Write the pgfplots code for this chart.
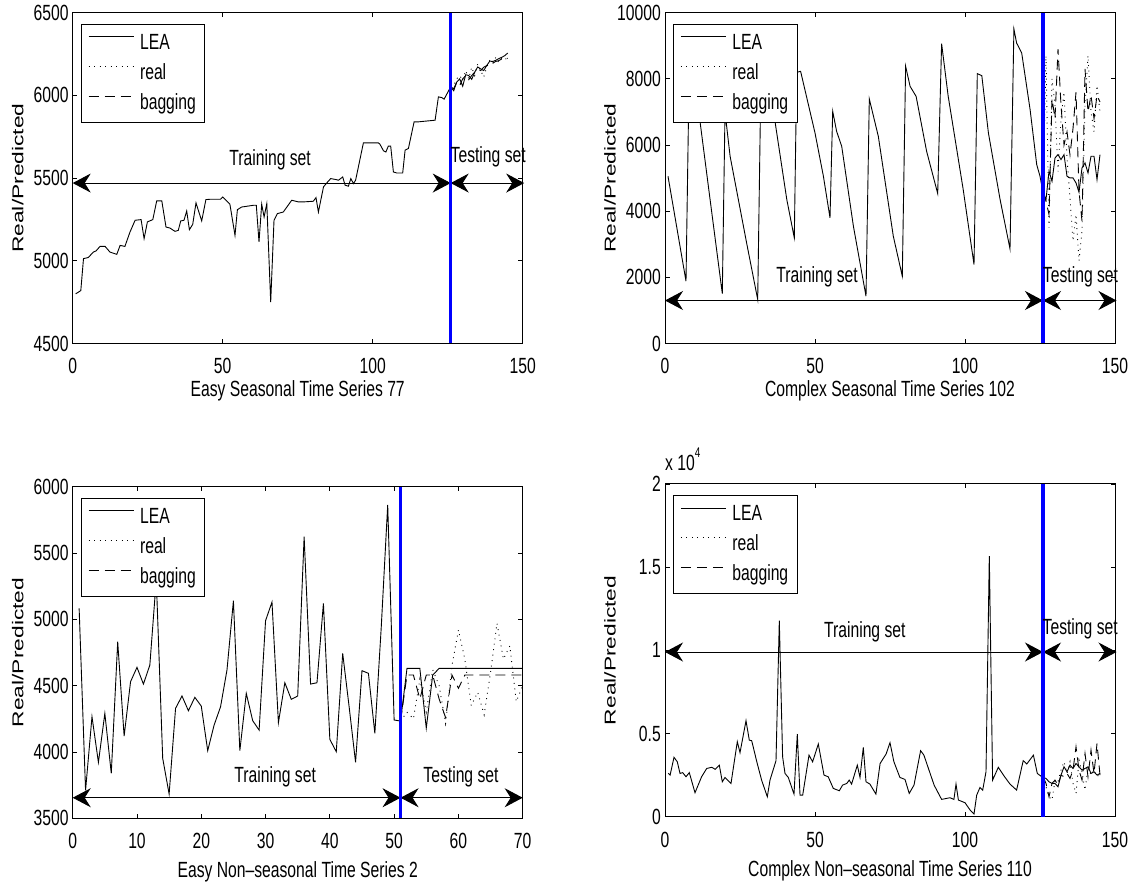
\documentclass[border=0pt]{standalone}
\usepackage{pgfplots}
\pgfplotsset{compat=1.18}
\usepackage{fontspec}
\setmainfont{Liberation Sans}
\usetikzlibrary{arrows.meta}
\newcommand\lab{\fontsize{15.7bp}{18bp}\selectfont}

\tikzset{
  dbl/.style={black, line width=0.9bp,
    {Stealth[length=18bp,width=19bp,inset=6bp]}-{Stealth[length=18bp,width=19bp,inset=6bp]}},
  vsep/.style={blue, line width=3.5bp},
  tag/.style={font=\lab, yscale=1.4, anchor=base, inner sep=0pt},
}
\pgfplotsset{
  panel/.style={
    scale only axis, width=450bp, anchor=south west, clip=false,
    axis line style={line width=1bp},
    every tick/.style={black, line width=0.8bp},
    major tick length=4.5bp,
    tick align=inside,
    tick label style={font=\lab, yscale=1.4, inner sep=2bp},
    xticklabel shift=12bp,
    yticklabel shift=2bp,
    /pgf/number format/assume math mode=true,
    /pgf/number format/1000 sep={},
    scaled ticks=false,
    xlabel style={font=\lab, yscale=1.4, at={(axis description cs:0.5,-0.097)}, anchor=north},
    ylabel style={font=\lab, at={(axis description cs:-0.1222,0.5)}, anchor=center, xscale=1.45},
    ylabel={Real/Predicted},
    legend style={at={(axis description cs:0,1)}, anchor=north west,
      xshift=8bp, yshift=-11.5bp, draw=black, line width=0.9bp, fill=white,
      font=\lab, inner xsep=7bp, inner ysep=6bp, row sep=3.5bp, column sep=4bp,
      nodes={yscale=1.4, inner sep=2bp, text height=11.5bp, text depth=3.3bp},
      cells={anchor=west}},
    legend image code/.code={\draw[#1] (0bp,7bp) -- (45bp,7bp);},
  },
  lowlabel/.style={xlabel style={at={(axis description cs:0.5,-0.116)}}},
  lea/.style={black, line width=0.9bp},
  realser/.style={black, line width=0.9bp, dash pattern=on 0.9bp off 4.6bp},
  bag/.style={black, line width=0.9bp, dash pattern=on 10bp off 6bp},
}

\begin{document}
\begin{tikzpicture}
\useasboundingbox (0,0) rectangle (1136bp,883bp);

% ---------------- Easy seasonal series 77 ----------------
\begin{axis}[panel, at={(72.7bp,539.5bp)}, height=330.8bp,
  xmin=0, xmax=150, ymin=4500, ymax=6500,
  xtick={0,50,100,150}, ytick={4500,5000,5500,6000,6500},
  xlabel={Easy Seasonal Time Series 77}]
\addplot[lea] coordinates {
(1,4800) (2.7,4820) (3.6,5013) (5.2,5020) (6.9,5053) (7.8,5060) (9.1,5087) (10.8,5087)
(12.4,5053) (14.7,5039) (15.8,5093) (17.4,5087) (19.1,5174) (20.8,5245) (22.8,5249)
(23.8,5134) (24.9,5235) (26.7,5249) (28,5362) (29.7,5362) (31.1,5204) (32.4,5198)
(34.1,5178) (35.2,5184) (36,5241) (37.1,5245) (38,5301) (38.9,5188) (40,5220) (41.1,5350)
(43,5241) (44.4,5370) (45.8,5372) (49.3,5372) (50,5386) (52.4,5342) (54.1,5154)
(54.9,5309) (56.3,5325) (60.4,5336) (61.2,5336) (62.1,5114) (63,5342) (63.8,5265)
(64.7,5346) (66,4750) (67.1,5245) (68.2,5285) (70.2,5295) (73,5366) (75.2,5356)
(76.9,5356) (80.2,5360) (81.1,5382) (81.9,5295) (83.6,5447) (84.7,5471) (86,5497)
(87.8,5491) (88.6,5487) (90,5507) (90.8,5457) (91.9,5451) (92.7,5497) (93.6,5467)
(94.3,5487) (96.9,5713) (101.9,5713) (102.4,5705) (103.6,5665) (104.4,5658) (105.2,5693)
(106,5693) (106.9,5537) (108,5531) (110,5531) (110.8,5669) (111.9,5679) (113.8,5840)
(115.2,5840) (120.8,5850) (121.9,5991) (123,5987) (123.8,5977) (126,6052)
(127,6028) (128,6080) (129,6100) (130,6055) (131,6125) (132,6120) (133,6097) (134,6140)
(135,6172) (136,6160) (137,6150) (138,6180) (139,6207) (140,6205) (141,6212) (142,6222)
(143,6230) (144,6240) (145,6256)};
\addplot[realser] coordinates {
(126,6052) (127,6060) (128,6100) (129,6120) (130,6090) (131,6150) (132,6100) (133,6170)
(134,6120) (135,6190) (136,6150) (137,6110) (138,6170) (139,6210) (140,6190) (141,6230)
(142,6200) (143,6225) (144,6215) (145,6230)};
\addplot[bag] coordinates {
(126,6052) (127,6040) (128,6080) (129,6060) (130,6100) (131,6120) (132,6095) (133,6120)
(134,6140) (135,6160) (136,6150) (137,6170) (138,6180) (139,6190) (140,6195) (141,6205)
(142,6210) (143,6220) (144,6215) (145,6225)};
\legend{LEA,real,bagging}
\addplot[dbl, forget plot] coordinates {(0,5470) (126,5470)};
\addplot[dbl, forget plot] coordinates {(126,5470) (150.5,5470)};
\addplot[vsep, forget plot] coordinates {(126,4500) (126,6500)};
\node[tag] at (axis cs:65.8,5577) {Training set};
\node[tag] at (axis cs:138.5,5595) {Testing set};
\end{axis}

% ---------------- Complex seasonal series 102 ----------------
\begin{axis}[panel, at={(665bp,539.5bp)}, height=330.8bp,
  xmin=0, xmax=150, ymin=0, ymax=10000,
  xtick={0,50,100,150}, ytick={0,2000,4000,6000,8000,10000},
  xlabel={Complex Seasonal Time Series 102}]
\addplot[lea] coordinates {
(1,5055) (7,1883) (8,7900) (11.7,6690) (15,4370) (19.1,1511) (20,7000) (21.7,5660)
(27.2,3041) (30.9,1330) (32,8200) (34,7600) (36.7,6690) (40.6,4350) (43.1,3192)
(43.9,8197) (45.2,8228) (50,6365) (52.8,5055) (55,3797) (55.9,7019) (57.2,6415)
(58.9,5962) (62.8,3545) (67,1430) (68.1,7392) (71.1,6264) (76.1,3243) (79.1,2034)
(80.2,8379) (81.7,7774) (83.7,7472) (87.2,5811) (90.9,4532) (92.2,9063) (94.4,7472)
(99.4,4653) (103,2387) (104.1,8157) (105.6,8097) (107.8,6365) (111.7,4350) (115,2860)
(116.3,9507) (117.2,9084) (118.9,8781) (121.7,7069) (123.9,5408) (125,5055) (126,4572)
(127,4350) (128,5206) (129,4904) (130,5609) (131,5710) (132,5559) (133,5710) (134,5055)
(135,5005) (136,5005) (137,4854) (138,4572) (139,5307) (140,5458) (141,5156) (142,5660)
(143,5660) (144,4955) (145,5710)};
\addplot[realser] coordinates {
(126,4572) (127,8700) (128,3500) (129,8000) (130,7200) (131,5200) (132,6800) (133,7600)
(134,5600) (135,4400) (136,3100) (137,3900) (138,2500) (139,3400) (140,7200) (141,8700)
(142,7000) (143,6400) (144,7800) (145,7000)};
\addplot[bag] coordinates {
(126,4572) (127,4300) (128,3900) (129,7400) (130,6800) (131,8900) (132,7200) (133,6000)
(134,6400) (135,5700) (136,6500) (137,7600) (138,4600) (139,3700) (140,8300) (141,7000)
(142,7500) (143,6800) (144,7500) (145,7300)};
\legend{LEA,real,bagging}
\addplot[dbl, forget plot] coordinates {(0,1300) (126,1300)};
\addplot[dbl, forget plot] coordinates {(126,1300) (150.5,1300)};
\addplot[vsep, forget plot] coordinates {(126,0) (126,10000)};
\node[tag] at (axis cs:50.7,1834) {Training set};
\node[tag] at (axis cs:138.5,1830) {Testing set};
\end{axis}

% ---------------- Easy non-seasonal series 2 ----------------
\begin{axis}[panel, lowlabel, at={(72.7bp,64.7bp)}, height=331.6bp,
  xmin=0, xmax=70, ymin=3500, ymax=6000,
  xtick={0,10,20,30,40,50,60,70}, ytick={3500,4000,4500,5000,5500,6000},
  xlabel={Easy Non\textendash seasonal Time Series 2}]
\addplot[lea] coordinates {
(1,5083) (2,3710) (3,4266) (4,3922) (5,4291) (6,3839) (7,4831) (8,4120) (9,4530)
(10,4638) (11,4512) (12,4655) (13,5300) (14,3952) (15,3683) (16,4329) (17,4422)
(18,4311) (19,4412) (20,4346) (21,4010) (22,4203) (23,4341) (24,4618) (25,5140)
(26,4010) (27,4442) (28,4236) (29,4165) (30,4990) (31,5130) (32,4221) (33,4522)
(34,4397) (35,4422) (36,5623) (37,4512) (38,4522) (39,5120) (40,4095) (41,4002)
(42,4743) (43,4341) (44,3922) (45,4613) (46,4593) (47,4140) (48,4944) (49,5862)
(50,4241) (51,4233) (52,4630) (53,4630) (54,4630) (55,4180) (56,4580) (57,4630)
(58,4630) (59,4630) (60,4630) (61,4630) (62,4630) (63,4630) (64,4630) (65,4630)
(66,4630) (67,4630) (68,4630) (69,4630) (70,4630)};
\addplot[realser] coordinates {
(51,4233) (52,4300) (53,4250) (54,4550) (55,4300) (56,4620) (57,4500) (58,4215)
(59,4650) (60,4920) (61,4700) (62,4350) (63,4450) (64,4280) (65,4600) (66,4970)
(67,4700) (68,4800) (69,4380) (70,4500)};
\addplot[bag] coordinates {
(51,4233) (52,4580) (53,4580) (54,4400) (55,4580) (56,4580) (57,4400) (58,4260)
(59,4580) (60,4480) (61,4580) (62,4580) (63,4580) (64,4580) (65,4580) (66,4580)
(67,4580) (68,4580) (69,4580) (70,4580)};
\legend{LEA,real,bagging}
\addplot[dbl, forget plot] coordinates {(0,3655) (51,3655)};
\addplot[dbl, forget plot] coordinates {(51,3655) (70,3655)};
\addplot[vsep, forget plot] coordinates {(51,3500) (51,6000)};
\node[tag] at (axis cs:31.5,3771) {Training set};
\node[tag] at (axis cs:60.4,3771) {Testing set};
\end{axis}

% ---------------- Complex non-seasonal series 110 ----------------
\begin{axis}[panel, lowlabel, at={(665bp,66.3bp)}, height=332.7bp,
  xmin=0, xmax=150, ymin=0, ymax=2,
  xtick={0,50,100,150}, ytick={0,0.5,1,1.5,2},
  xlabel={Complex Non\textendash seasonal Time Series 110}]
\addplot[lea] coordinates {
(1.1,0.261) (1.7,0.25) (3,0.357) (4.1,0.33) (5,0.26) (5.9,0.265) (7,0.24) (8.1,0.265)
(10,0.144) (12.2,0.24) (13.9,0.29) (15.6,0.297) (16.7,0.285) (18.1,0.31) (19.1,0.21)
(20,0.236) (22,0.2) (24.1,0.451) (25,0.385) (27,0.577) (28.1,0.46) (28.9,0.457)
(30.6,0.33) (32.2,0.22) (34.1,0.12) (35,0.22) (37,0.337) (38.1,1.178) (39.2,0.36)
(40,0.26) (41.1,0.236) (43,0.136) (44.1,0.497) (45,0.13) (45.9,0.13) (48,0.37)
(49.2,0.33) (51.1,0.437) (53,0.25) (54.4,0.24) (56.1,0.17) (58.1,0.156) (59.2,0.19)
(60.6,0.2) (61.4,0.22) (62.2,0.196) (64.1,0.31) (65,0.236) (66.1,0.417) (67,0.21)
(68.3,0.196) (70.3,0.136) (71.7,0.32) (73.7,0.377) (75,0.445) (76.3,0.33) (78.3,0.236)
(80,0.224) (81.4,0.14) (83,0.19) (85.2,0.397) (86.3,0.37) (89.7,0.19) (92.2,0.104)
(95,0.114) (96.3,0.104) (97,0.196) (97.8,0.1) (100,0.084) (101.7,0.04) (103,0.016)
(103.9,0.13) (105,0.176) (105.9,0.16) (107,0.27) (108.1,1.567) (109.2,0.22) (111.1,0.297)
(113,0.245) (115,0.196) (117.2,0.16) (119.4,0.337) (120.6,0.317) (122.8,0.37)
(124.1,0.26) (125.6,0.24) (127,0.23) (128,0.21) (129,0.2) (130,0.2) (131,0.18)
(132,0.25) (133,0.3) (134,0.27) (135,0.31) (136,0.29) (137,0.32) (138,0.3) (139,0.28)
(140,0.29) (141,0.3) (142,0.26) (143,0.27) (144,0.25) (145,0.26)};
\addplot[realser] coordinates {
(126,0.24) (127,0.18) (128,0.12) (129,0.1) (130,0.22) (131,0.21) (132,0.28) (133,0.33)
(134,0.26) (135,0.33) (136,0.2) (137,0.14) (138,0.34) (139,0.27) (140,0.16) (141,0.3)
(142,0.25) (143,0.28) (144,0.24) (145,0.26)};
\addplot[bag] coordinates {
(126,0.24) (127,0.2) (128,0.12) (129,0.2) (130,0.22) (131,0.19) (132,0.25) (133,0.24)
(134,0.26) (135,0.23) (136,0.28) (137,0.42) (138,0.28) (139,0.22) (140,0.38) (141,0.24)
(142,0.4) (143,0.26) (144,0.44) (145,0.25)};
\legend{LEA,real,bagging}
\addplot[dbl, forget plot] coordinates {(0,0.99) (126,0.99)};
\addplot[dbl, forget plot] coordinates {(126,0.99) (150.5,0.99)};
\addplot[vsep, forget plot] coordinates {(126,0) (126,2)};
\node[tag] at (axis cs:66.6,1.078) {Training set};
\node[tag] at (axis cs:138.4,1.098) {Testing set};
\node[font=\lab, yscale=1.4, anchor=base west, inner sep=0pt]
  at (axis description cs:0,1.042) {x 10\raisebox{0.55em}{\fontsize{10bp}{10bp}\selectfont 4}};
\end{axis}
\end{tikzpicture}
\end{document}
